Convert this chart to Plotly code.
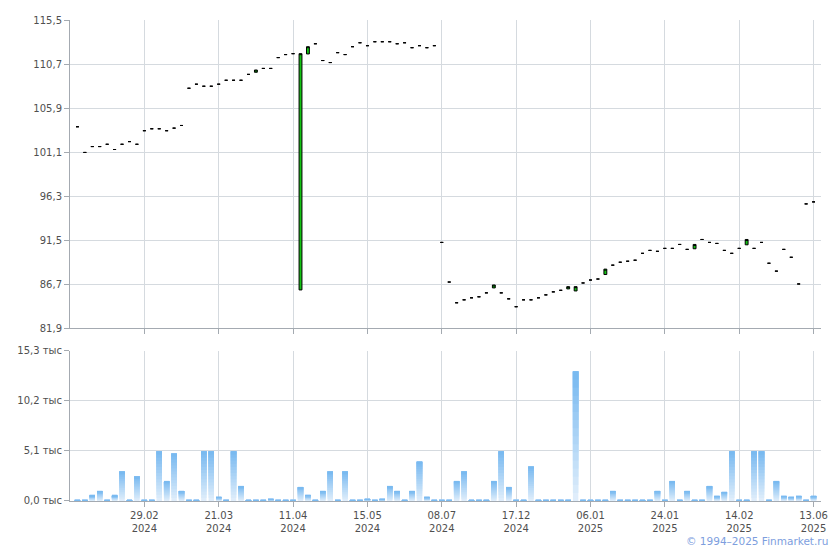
import plotly.graph_objects as go

# ---- data ----
closes = [103.86, 101.06, 101.7, 101.7, 101.95, 101.38, 101.95, 102.24, 101.95, 103.43,
          103.64, 103.64, 103.43, 103.71, 104.0, 108.06, 108.5, 108.28, 108.28, 108.5,
          108.93, 108.93, 108.93, 109.57, 110.05, 110.22, 110.22, 111.4, 111.73, 111.83,
          111.83, 112.59, 112.91, 111.08, 110.86, 111.94, 111.73, 112.59, 113.02, 112.7,
          113.13, 113.13, 113.13, 112.91, 113.02, 112.48, 112.7, 112.48, 112.7, 91.25,
          86.93, 84.67, 84.99, 85.21, 85.32, 85.75, 86.61, 85.75, 85.1, 84.24,
          84.99, 84.99, 85.21, 85.53, 85.86, 86.03, 86.43, 86.43, 86.83, 87.15,
          87.26, 88.34, 88.77, 89.09, 89.2, 89.31, 90.06, 90.38, 90.28, 90.6,
          90.6, 91.03, 90.49, 91.03, 91.57, 91.25, 91.14, 90.38, 90.06, 90.6,
          91.57, 90.6, 91.25, 88.98, 88.12, 90.49, 89.63, 86.72, 95.45, 95.67]

# opens that differ from the close (green candles); all others open == close
open_overrides = {24: 109.8, 30: 86.07, 31: 111.8, 56: 86.29, 66: 86.18,
                  67: 85.96, 71: 87.75, 83: 90.56, 90: 90.99}

volumes = [0.1, 0.1, 0.54, 1.0, 0.1, 0.54, 3.0, 0.1, 2.5, 0.1,
           0.1, 5.06, 2.0, 4.83, 1.0, 0.1, 0.1, 5.06, 5.06, 0.4,
           0.1, 5.06, 1.5, 0.1, 0.1, 0.1, 0.2, 0.1, 0.1, 0.1,
           1.4, 0.6, 0.1, 1.0, 3.0, 0.1, 3.0, 0.1, 0.1, 0.2,
           0.1, 0.2, 1.5, 1.0, 0.1, 1.0, 4.0, 0.4, 0.1, 0.1,
           0.1, 2.0, 3.0, 0.1, 0.1, 0.1, 2.0, 5.06, 1.4, 0.1,
           0.1, 3.5, 0.1, 0.1, 0.1, 0.1, 0.1, 13.2, 0.1, 0.1,
           0.1, 0.1, 1.0, 0.1, 0.1, 0.1, 0.1, 0.1, 1.0, 0.1,
           2.0, 0.1, 1.0, 0.1, 0.1, 1.5, 0.5, 0.9, 5.06, 0.1,
           0.1, 5.06, 5.06, 0.1, 2.0, 0.5, 0.4, 0.5, 0.1, 0.5]

x_tick_idx = [9, 19, 29, 39, 49, 59, 69, 79, 89, 99]
x_tick_labels = ["29.02<br>2024", "21.03<br>2024", "11.04<br>2024", "15.05<br>2024",
                 "08.07<br>2024", "17.12<br>2024", "06.01<br>2025", "24.01<br>2025",
                 "14.02<br>2025", "13.06<br>2025"]

price_ticks = [81.9, 86.7, 91.5, 96.3, 101.1, 105.9, 110.7, 115.5]
price_tick_labels = ["81,9", "86,7", "91,5", "96,3", "101,1", "105,9", "110,7", "115,5"]
vol_ticks = [0.0, 5.1, 10.2, 15.3]
vol_tick_labels = ["0,0 тыс", "5,1 тыс", "10,2 тыс", "15,3 тыс"]

# ---- build ----
n = len(closes)
idx = list(range(n))
opens = [open_overrides.get(i, c) for i, c in enumerate(closes)]
highs = [max(o, c) for o, c in zip(opens, closes)]
lows = [min(o, c) for o, c in zip(opens, closes)]

GRID = "#d5dadf"
AXIS = "#a4aab1"
TXT = "#4f4f4f"
FONT = "DejaVu Sans"

fig = go.Figure()
fig.add_trace(go.Candlestick(
    x=idx, open=opens, high=highs, low=lows, close=closes,
    xaxis="x", yaxis="y", whiskerwidth=0, showlegend=False, hoverinfo="skip",
    increasing=dict(line=dict(color="black", width=1), fillcolor="#12c312"),
    decreasing=dict(line=dict(color="black", width=1), fillcolor="#12c312"),
))

# volume bars with a vertical gradient: overlapping bars, each starting higher
# and darker, all ending at the volume value (no seams between pieces)
n_sl = 16
top_rgb = (118, 184, 240)
bot_rgb = (226, 239, 251)
for k in range(n_sl):
    t = (k + 0.5) / n_sl
    col = tuple(round(b + (tp - b) * t) for b, tp in zip(bot_rgb, top_rgb))
    fig.add_trace(go.Bar(
        x=idx, y=[v * (n_sl - k) / n_sl for v in volumes],
        base=[v * k / n_sl for v in volumes],
        xaxis="x2", yaxis="y2", showlegend=False, hoverinfo="skip",
        marker=dict(color="rgb(%d,%d,%d)" % col, line=dict(width=0)),
    ))

axis_common = dict(
    showline=True, linecolor=AXIS, linewidth=1, ticks="outside", ticklen=5,
    tickcolor=AXIS, showgrid=True, gridcolor=GRID, gridwidth=1, zeroline=False,
    tickfont=dict(family=FONT, size=10, color=TXT),
)

# the page body adds an 8px offset, so the figure is sized/margined to compensate
fig.update_layout(
    width=832, height=542,
    margin=dict(l=62, r=18.5, t=6, b=49),
    paper_bgcolor="white", plot_bgcolor="white",
    barmode="overlay", bargap=0.27, boxgap=0.45,
    xaxis=dict(domain=[0, 1], anchor="y", range=[-1, 100], tickvals=x_tick_idx,
               showticklabels=False, rangeslider=dict(visible=False), **axis_common),
    xaxis2=dict(domain=[0, 1], anchor="y2", range=[-1, 100], matches="x",
                tickvals=x_tick_idx, ticktext=x_tick_labels, tickangle=0, **axis_common),
    yaxis=dict(domain=[0.3593, 1], anchor="x", range=[81.9, 115.5],
               tickvals=price_ticks, ticktext=price_tick_labels, **axis_common),
    yaxis2=dict(domain=[0, 0.3121], anchor="x2", range=[0, 15.3],
                tickvals=vol_ticks, ticktext=vol_tick_labels, **axis_common),
    font=dict(family=FONT, size=10, color=TXT),
    annotations=[dict(text="© 1994–2025 Finmarket.ru", xref="paper", yref="paper",
                      x=1.0126, y=-0.084, xanchor="right", yanchor="middle",
                      showarrow=False, font=dict(family=FONT, size=10.5, color="#7d9ede"))],
)

fig.write_html("out.html")
